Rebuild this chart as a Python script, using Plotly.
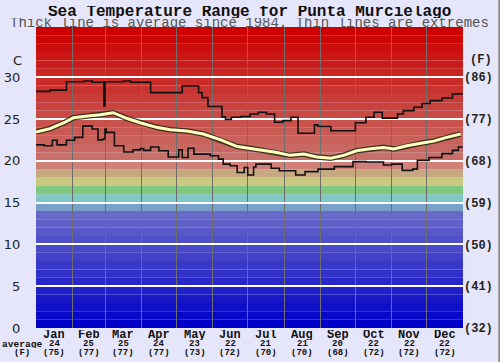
import plotly.graph_objects as go

# ---------------- data ----------------
months = ['Jan', 'Feb', 'Mar', 'Apr', 'May', 'Jun', 'Jul', 'Aug', 'Sep', 'Oct', 'Nov', 'Dec']
month_avg_c = [24, 25, 25, 24, 23, 22, 21, 21, 20, 22, 22, 22]
month_avg_f = [75, 77, 77, 77, 73, 72, 70, 70, 68, 72, 72, 72]
month_starts = [0, 31, 59, 90, 120, 151, 181, 212, 243, 273, 304, 334, 365]

avg_days = [0, 12, 24, 32, 44, 55, 66, 78, 89, 103, 115, 129, 143, 158, 172, 183, 195,
            206, 217, 229, 240, 252, 263, 274, 286, 297, 306, 317, 329, 340, 351, 363]
avg_c = [23.45, 23.85, 24.55, 25.15, 25.35, 25.5, 25.75, 25.05, 24.55, 24.0, 23.7, 23.55,
         23.2, 22.5, 21.7, 21.5, 21.2, 21.0, 20.65, 20.8, 20.45, 20.3, 20.65, 21.2, 21.45,
         21.6, 21.4, 21.8, 22.1, 22.35, 22.8, 23.2]

max_days = [0, 12, 26, 41, 48, 58, 59, 75, 81, 98, 125, 139, 142, 147, 159, 162, 167, 175,
            183, 190, 197, 204, 211, 218, 224, 238, 241, 252, 273, 282, 289, 296, 309, 314,
            323, 330, 337, 347, 356, 365]
max_c = [28.3, 28.45, 29.45, 29.55, 29.4, 26.55, 29.45, 29.55, 29.4, 28.15, 28.95, 28.15,
         27.55, 26.5, 25.25, 24.95, 25.2, 25.3, 25.6, 25.8, 25.6, 24.6, 24.8, 25.2, 23.3,
         24.3, 24.1, 23.6, 24.55, 25.2, 25.8, 25.1, 25.6, 26.0, 26.4, 26.85, 27.2, 27.5,
         28.0, 28.0]

min_days = [0, 7, 14, 18, 26, 33, 40, 48, 53, 57, 59, 60, 67, 75, 83, 89, 92, 98, 105, 113,
            122, 125, 130, 135, 149, 156, 160, 166, 172, 178, 181, 186, 188, 201, 208, 222,
            230, 241, 255, 271, 282, 297, 304, 313, 322, 326, 336, 347, 356, 361, 365]
min_c = [21.9, 21.8, 22.45, 21.9, 22.45, 22.8, 24.15, 23.8, 22.5, 22.6, 23.8, 23.4, 21.8,
         21.05, 21.3, 21.45, 21.25, 21.65, 21.2, 20.45, 21.3, 20.4, 21.5, 20.8, 20.6, 20.2,
         19.6, 19.4, 18.6, 19.2, 18.3, 19.25, 19.6, 19.1, 18.8, 18.3, 18.7, 19.0, 19.3,
         19.9, 19.85, 19.5, 19.6, 18.85, 19.0, 20.05, 20.4, 20.85, 21.25, 21.65, 21.65]

c_ticks = [0, 5, 10, 15, 20, 25, 30]
f_ticks = [32, 41, 50, 59, 68, 77, 86]

# ---------------- styling helpers ----------------
Y_MAX = 36
MONO = 'Liberation Mono, Courier New, monospace'


def band_color(k):
    if k <= 13:
        v = int(8 * k)
        return f'rgb({v},{v},200)'
    fixed = {14: (120, 160, 200), 15: (128, 200, 200), 16: (128, 200, 128),
             17: (200, 200, 128), 18: (200, 168, 128), 19: (208, 128, 120)}
    if k in fixed:
        r, g, b = fixed[k]
        return f'rgb({r},{g},{b})'
    t = (k - 20) / 15.0
    return f'rgb({int(200 + 4 * t)},{int(112 * (1 - t))},{int(104 * (1 - t))})'


shapes = []
for k in range(Y_MAX):
    shapes.append(dict(type='rect', xref='x', yref='y', x0=0, x1=365, y0=k, y1=k + 1,
                       fillcolor=band_color(k), line=dict(width=0), layer='below'))
# right border of the image
shapes.append(dict(type='line', xref='paper', yref='paper', x0=1.085, x1=1.085,
                   y0=-0.12, y1=1.1, line=dict(color='#8a8a8a', width=2)))

fig = go.Figure()

fig.add_trace(go.Scatter(x=max_days, y=max_c, mode='lines', line=dict(color='#111', width=1.6, shape='hv'),
                         hoverinfo='skip', showlegend=False))
fig.add_trace(go.Scatter(x=min_days, y=min_c, mode='lines', line=dict(color='#111', width=1.6, shape='hv'),
                         hoverinfo='skip', showlegend=False))
fig.add_trace(go.Scatter(x=avg_days, y=avg_c, mode='lines', line=dict(color='rgba(40,40,20,0.85)', width=5.5),
                         hoverinfo='skip', showlegend=False))
fig.add_trace(go.Scatter(x=avg_days, y=avg_c, mode='lines', line=dict(color='#FFFFC0', width=3),
                         hoverinfo='skip', showlegend=False))
# invisible trace to carry the Fahrenheit axis
fig.add_trace(go.Scatter(x=[0], y=[32], yaxis='y2', mode='markers', marker=dict(opacity=0),
                         hoverinfo='skip', showlegend=False))

annotations = []
centers = [(month_starts[i] + month_starts[i + 1]) / 2 for i in range(12)]
for i, m in enumerate(months):
    annotations.append(dict(x=centers[i], y=0, xref='x', yref='paper', yanchor='middle', yshift=-6.5,
                            text=f'<b>{m}</b>', showarrow=False, height=10, borderpad=0,
                            font=dict(family=MONO, size=12, color='#111')))
    annotations.append(dict(x=centers[i], y=0, xref='x', yref='paper', yanchor='middle', yshift=-15.5,
                            text=f'<b>{month_avg_c[i]}</b>', showarrow=False, height=8, borderpad=0,
                            font=dict(family=MONO, size=9, color='#111')))
    annotations.append(dict(x=centers[i], y=0, xref='x', yref='paper', yanchor='middle', yshift=-24.5,
                            text=f'<b>({month_avg_f[i]})</b>', showarrow=False, height=8, borderpad=0,
                            font=dict(family=MONO, size=9, color='#111')))
annotations.append(dict(x=0, y=0, xref='paper', yref='paper', xanchor='right', yanchor='middle',
                        xshift=8, yshift=-15.5, text='<b>average</b>', showarrow=False,
                        height=8, borderpad=0,
                        font=dict(family=MONO, size=9.6, color='#111')))
annotations.append(dict(x=0, y=0, xref='paper', yref='paper', xanchor='center', yanchor='middle',
                        xshift=-14, yshift=-24.5, text='<b>(F)</b>', showarrow=False,
                        height=8, borderpad=0,
                        font=dict(family=MONO, size=9, color='#111')))
annotations.append(dict(x=0, y=32, xref='paper', yref='y', xanchor='center', yanchor='middle',
                        xshift=-18.5, text='C', showarrow=False,
                        font=dict(family='DejaVu Sans', size=13, color='#222')))
annotations.append(dict(x=1, y=32, xref='paper', yref='y', xanchor='center', yanchor='middle',
                        xshift=18, text='<b>(F)</b>', showarrow=False,
                        font=dict(family=MONO, size=12, color='#222')))
annotations.append(dict(x=0.5, y=1, xref='paper', yref='paper', xanchor='center', yanchor='middle',
                        yshift=15.5, text='<b>Sea Temperature Range for Punta Murcielago</b>',
                        showarrow=False, height=12, borderpad=0,
                        font=dict(family=MONO, size=16, color='#111')))
annotations.append(dict(x=0.5, y=1, xref='paper', yref='paper', xanchor='center', yanchor='middle',
                        yshift=4.5, text='Thick line is average since 1984. Thin lines are extremes',
                        showarrow=False, height=10, borderpad=0,
                        font=dict(family=MONO, size=14, color='#555')))

fig.update_layout(
    width=500, height=362,
    margin=dict(l=36, r=37, t=27, b=34, pad=0, autoexpand=False),
    paper_bgcolor='#E6E6FA', plot_bgcolor='#E6E6FA',
    showlegend=False,
    shapes=shapes,
    annotations=annotations,
    xaxis=dict(range=[0, 365], tickvals=month_starts, showticklabels=False, ticks='',
               showgrid=True, gridcolor='#6e6e6e', gridwidth=1, zeroline=False, fixedrange=True,
               automargin=False),
    yaxis=dict(range=[0, Y_MAX], tickvals=c_ticks, ticktext=[str(v) for v in c_ticks],
               ticks='outside', ticklen=12, tickcolor='rgba(0,0,0,0)',
               tickfont=dict(family='DejaVu Sans', size=13, color='#222'),
               showgrid=True, gridcolor='white', gridwidth=2, zeroline=False, fixedrange=True,
               automargin=False),
    yaxis2=dict(range=[32, 32 + Y_MAX * 1.8], overlaying='y', side='right', tickvals=f_ticks,
                ticktext=[f'({v})' for v in f_ticks], ticks='', showgrid=False, zeroline=False,
                tickfont=dict(family=MONO, size=12, color='#222', weight='bold'), fixedrange=True,
                automargin=False),
)

fig.write_html('out.html', config={'displayModeBar': False},
               post_script="document.body.style.margin='0';document.body.style.padding='0';")
